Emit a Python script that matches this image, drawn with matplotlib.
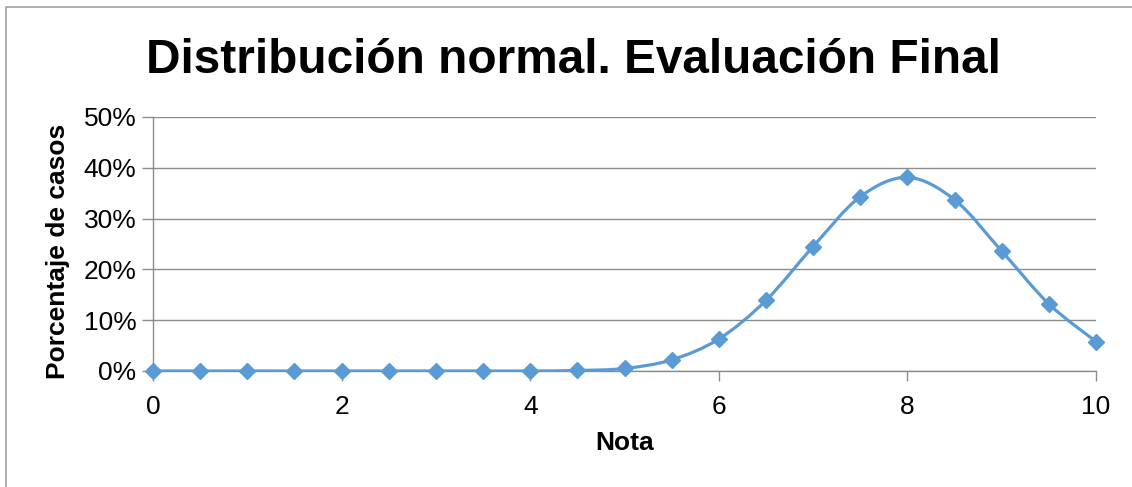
import matplotlib.pyplot as plt
from matplotlib.path import Path
from matplotlib.patches import PathPatch
from matplotlib.lines import Line2D
from matplotlib.ticker import PercentFormatter

plt.rcParams['font.family'] = ['Liberation Sans', 'DejaVu Sans']

# data
notas = [0, 0.5, 1, 1.5, 2, 2.5, 3, 3.5, 4, 4.5, 5, 5.5, 6, 6.5, 7, 7.5, 8, 8.5, 9, 9.5, 10]
porcentaje = [0.0, 0.0, 0.0, 0.0, 0.0, 0.0, 0.0, 0.0, 0.0, 0.001, 0.005, 0.022, 0.063,
              0.139, 0.245, 0.343, 0.381, 0.337, 0.236, 0.132, 0.058]
x_ticks = [0, 2, 4, 6, 8, 10]
y_ticks = [0, 0.1, 0.2, 0.3, 0.4, 0.5]

color = '#5B9BD5'
grid_color = '#8C8C8C'


def smooth_path(xs, ys):
    '''catmull-rom style bezier path through the points (like excel smoothing)'''
    pts = list(zip(xs, ys))
    verts = [pts[0]]
    codes = [Path.MOVETO]
    n = len(pts)
    for i in range(n - 1):
        p0 = pts[i - 1] if i > 0 else pts[i]
        p1 = pts[i]
        p2 = pts[i + 1]
        p3 = pts[i + 2] if i + 2 < n else pts[i + 1]
        c1 = (p1[0] + (p2[0] - p0[0]) / 6, p1[1] + (p2[1] - p0[1]) / 6)
        c2 = (p2[0] - (p3[0] - p1[0]) / 6, p2[1] - (p3[1] - p1[1]) / 6)
        verts += [c1, c2, p2]
        codes += [Path.CURVE4] * 3
    return Path(verts, codes)


fig = plt.figure(figsize=(11.32, 4.87), dpi=100)
ax = fig.add_axes([0.1352, 0.2382, 0.8330, 0.5216])

# outer chart frame: only top and left edges are inside the picture
fig.lines.append(Line2D([0.005, 0.005, 1.0], [0.0, 0.986, 0.986], transform=fig.transFigure,
                        color='#A0A0A0', linewidth=1.2))

ax.add_patch(PathPatch(smooth_path(notas, porcentaje), fill=False,
                       edgecolor=color, linewidth=2.3, zorder=3))
ax.plot(notas, porcentaje, linestyle='none', marker='D', markersize=8,
        color=color, zorder=4, clip_on=False)

ax.set_xlim(0, 10)
ax.set_ylim(0, 0.5)
ax.set_xticks(x_ticks)
ax.set_yticks(y_ticks)
ax.yaxis.set_major_formatter(PercentFormatter(1.0, decimals=0))
ax.tick_params(labelsize=19, color=grid_color, width=1)
ax.tick_params(axis='x', length=7, pad=10)
ax.tick_params(axis='y', length=8, pad=4)

ax.grid(axis='y', color=grid_color, linewidth=1)
ax.set_axisbelow(True)
for side in ['top', 'right']:
    ax.spines[side].set_visible(False)
for side in ['left', 'bottom']:
    ax.spines[side].set_color(grid_color)
    ax.spines[side].set_linewidth(1)

ax.set_xlabel('Nota', fontsize=19, fontweight='bold', labelpad=9)
ax.set_ylabel('Porcentaje de casos', fontsize=19, fontweight='bold', labelpad=10)
ax.yaxis.label.set_y(0.47)
fig.text(0.5066, 0.850, 'Distribución normal. Evaluación Final', ha='center', va='baseline',
         fontsize=34.4, fontweight='bold')

fig.savefig('out.png', dpi=100)
